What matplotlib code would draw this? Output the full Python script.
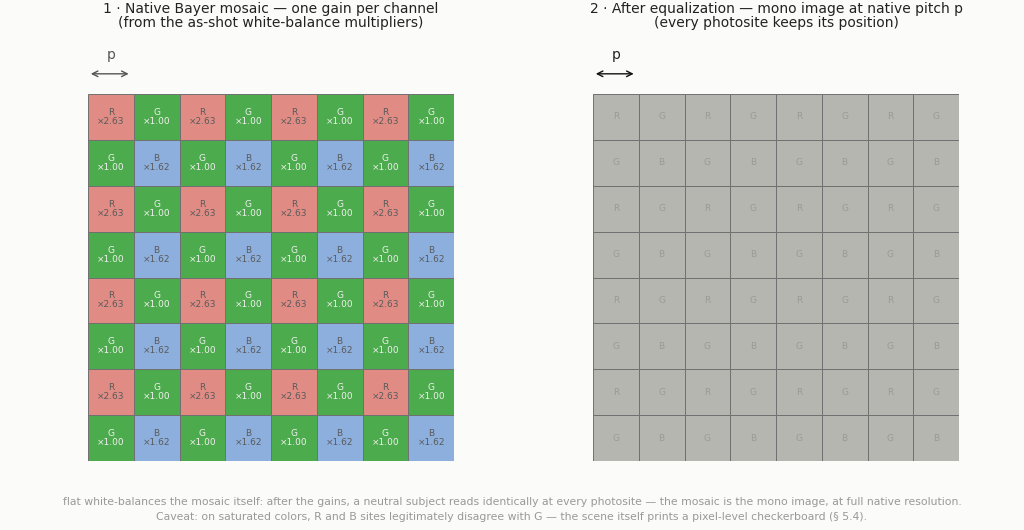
import numpy as np
import matplotlib
matplotlib.use("Agg")
import matplotlib.pyplot as plt
from matplotlib.patches import Rectangle

# --- data ---
pattern = [["R", "G"], ["G", "B"]]
gains = {"R": 2.63, "G": 1.00, "B": 1.62}
n_cells = 8

titles = [
    "1 · Native Bayer mosaic — one gain per channel\n(from the as-shot white-balance multipliers)",
    "2 · After equalization — mono image at native pitch p\n(every photosite keeps its position)",
]
footer = ("flat white-balances the mosaic itself: after the gains, a neutral subject reads identically "
          "at every photosite — the mosaic is the mono image, at full native resolution.\n"
          "Caveat: on saturated colors, R and B sites legitimately disagree with G — the scene itself "
          "prints a pixel-level checkerboard (§ 5.4).")

# --- colors ---
bg = "#FBFBF9"
cell_colors = {"R": "#E08C85", "G": "#4CAB4C", "B": "#8DAFDD"}
text_colors = {"R": "#5a5a5a", "G": "#f0f0f0", "B": "#5a5a5a"}
mono_color = "#B6B6B0"

fig = plt.figure(figsize=(10.24, 5.3), dpi=100, facecolor=bg)

ax1 = fig.add_axes([88 / 1024, 69 / 530, 366 / 1024, 367 / 530])
ax2 = fig.add_axes([593 / 1024, 69 / 530, 366 / 1024, 367 / 530])


def setup(ax):
    ax.set_xlim(0, n_cells)
    ax.set_ylim(n_cells, 0)
    ax.set_axis_off()
    ax.set_facecolor(bg)


# panel 1: colored mosaic with gains
setup(ax1)
for r in range(n_cells):
    for c in range(n_cells):
        ch = pattern[r % 2][c % 2]
        ax1.add_patch(Rectangle((c, r), 1, 1, facecolor=cell_colors[ch],
                                edgecolor="#707070", linewidth=0.7))
        ax1.text(c + 0.5, r + 0.5, f"{ch}\n×{gains[ch]:.2f}", ha="center", va="center",
                 fontsize=6.5, color=text_colors[ch], linespacing=1.0)

# panel 2: equalized mono
setup(ax2)
for r in range(n_cells):
    for c in range(n_cells):
        ch = pattern[r % 2][c % 2]
        ax2.add_patch(Rectangle((c, r), 1, 1, facecolor=mono_color,
                                edgecolor="#707070", linewidth=0.7))
        ax2.text(c + 0.5, r + 0.5, ch, ha="center", va="center",
                 fontsize=6.5, color="#9a9a96")

# pitch arrows + titles
for ax, acol, tcol in [(ax1, "#555555", "#555555"), (ax2, "#111111", "#222222")]:
    ax.annotate("", xy=(0, -0.44), xytext=(0.95, -0.44), annotation_clip=False,
                arrowprops=dict(arrowstyle="<->", color=acol, lw=1.0))
    ax.text(0.5, -0.85, "p", ha="center", va="center", fontsize=10, color=tcol, clip_on=False)

ax1.text(4, -1.7, titles[0], ha="center", va="center", fontsize=10, color="#222222",
         clip_on=False, linespacing=1.0)
ax2.text(4, -1.7, titles[1], ha="center", va="center", fontsize=10, color="#222222",
         clip_on=False, linespacing=1.0)

fig.text(0.5, 0.038, footer, ha="center", va="center", fontsize=7.8, color="#999999",
         linespacing=1.6)

fig.savefig("out.png", dpi=100, facecolor=bg)
